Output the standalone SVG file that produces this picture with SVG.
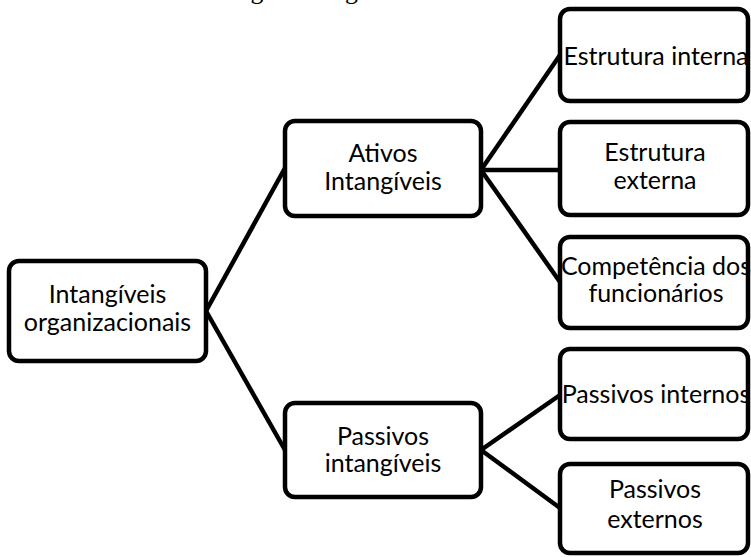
<svg xmlns="http://www.w3.org/2000/svg" width="751" height="557" viewBox="0 0 751 557">
  <style>
    .box { fill: #ffffff; stroke: #000000; stroke-width: 4.5; }
    .conn line { stroke: #000000; stroke-width: 4.5; stroke-linecap: butt; }
    .lbl { font-family: Lato, "Liberation Sans", sans-serif; font-size: 25px; fill: #000000; text-anchor: middle; }
    .cap { font-family: "Liberation Serif", "Times New Roman", serif; font-size: 25.7px; fill: #000000; }
  </style>
  <rect x="0" y="0" width="751" height="557" fill="#ffffff"/>
  <text class="cap" x="-57" y="-1">Figura 1 – Estrutura dos Intangíveis Organizacionais</text>
  <g id="connectors" class="conn">
    <line x1="206" y1="311" x2="285" y2="168"/>
    <line x1="206" y1="311" x2="285" y2="450"/>
    <line x1="481" y1="170" x2="560" y2="55"/>
    <line x1="481" y1="170" x2="560" y2="170"/>
    <line x1="481" y1="170" x2="560" y2="282"/>
    <line x1="481" y1="450" x2="560" y2="395"/>
    <line x1="481" y1="450" x2="560" y2="508"/>
  </g>
  <g id="node-intangiveis-organizacionais">
    <rect class="box" x="9" y="261" width="197" height="100" rx="10"/>
    <text class="lbl" x="107.5" y="303">Intangíveis</text>
    <text class="lbl" x="107.5" y="331">organizacionais</text>
  </g>
  <g id="node-ativos-intangiveis">
    <rect class="box" x="285" y="121" width="196" height="95" rx="10"/>
    <text class="lbl" x="383" y="162">Ativos</text>
    <text class="lbl" x="383" y="190">Intangíveis</text>
  </g>
  <g id="node-passivos-intangiveis">
    <rect class="box" x="285" y="403" width="196" height="94" rx="10"/>
    <text class="lbl" x="383" y="445">Passivos</text>
    <text class="lbl" x="383" y="472">intangíveis</text>
  </g>
  <g id="node-estrutura-interna">
    <rect class="box" x="560" y="9" width="188" height="92" rx="10"/>
    <text class="lbl" x="656" y="65">Estrutura interna</text>
  </g>
  <g id="node-estrutura-externa">
    <rect class="box" x="560" y="122" width="188" height="93" rx="10"/>
    <text class="lbl" x="655" y="161">Estrutura</text>
    <text class="lbl" x="655" y="189">externa</text>
  </g>
  <g id="node-competencia">
    <rect class="box" x="560" y="237" width="188" height="91" rx="10"/>
    <text class="lbl" x="656" y="275">Competência dos</text>
    <text class="lbl" x="656" y="302">funcionários</text>
  </g>
  <g id="node-passivos-internos">
    <rect class="box" x="560" y="349" width="188" height="90" rx="10"/>
    <text class="lbl" x="656" y="403">Passivos internos</text>
  </g>
  <g id="node-passivos-externos">
    <rect class="box" x="560" y="464" width="188" height="89" rx="10"/>
    <text class="lbl" x="655" y="498">Passivos</text>
    <text class="lbl" x="655" y="528">externos</text>
  </g>
</svg>
